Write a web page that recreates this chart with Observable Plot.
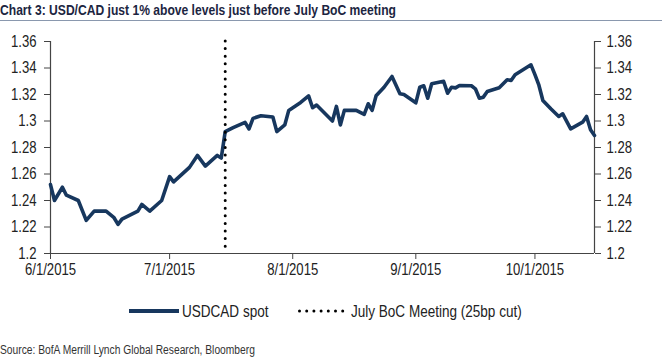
<!DOCTYPE html>
<html>
<head>
<meta charset="utf-8">
<script src="https://cdn.jsdelivr.net/npm/d3@7"></script>
<script src="https://cdn.jsdelivr.net/npm/@observablehq/plot@0.6"></script>
<style>
  body { margin: 0; background: #fff; width: 670px; height: 363px; overflow: hidden; position: relative;
         font-family: "Liberation Sans", Arial, sans-serif; color: #222; }
  #titlebar { position: absolute; left: 0; top: 0; width: 662px; height: 20px; border-bottom: 1px solid #8a98ae; }
  #title { position: absolute; left: 0; top: 0; font-weight: bold; font-size: 15px; line-height: 19px; color: #1c2541;
           white-space: nowrap; transform-origin: 0 50%; }
  #chart { position: absolute; left: 0; top: 22px; }
  .leg { position: absolute; top: 301px; height: 20px; font-size: 16.5px; line-height: 20px; color: #222; white-space: nowrap; }
  .leg svg { position: absolute; top: 0; left: 0; }
  .leg span { position: absolute; left: 53px; top: 0; transform: scaleX(0.82); transform-origin: 0 50%; }
  #source { position: absolute; left: 0; top: 342px; font-size: 12.5px; line-height: 16px; color: #333; white-space: nowrap;
            transform: scaleX(0.82); transform-origin: 0 50%; }
</style>
</head>
<body>
<div id="titlebar"><div id="title">Chart 3: USD/CAD just 1% above levels just before July BoC meeting</div></div>
<div id="chart"></div>
<div class="leg" style="left:129px"><svg width="52" height="20"><line x1="0" x2="50" y1="10" y2="10" stroke="#17375e" stroke-width="4"/></svg><span>USDCAD spot</span></div>
<div class="leg" style="left:298px"><svg width="52" height="20"><line x1="1.5" x2="48" y1="10" y2="10" stroke="#000" stroke-width="3" stroke-dasharray="0 7.2" stroke-linecap="round"/></svg><span>July BoC Meeting (25bp cut)</span></div>
<div id="source">Source: BofA Merrill Lynch Global Research, Bloomberg</div>
<script>
// ---- data ----
const dates = [
  "2015-06-01","2015-06-02","2015-06-04","2015-06-05","2015-06-08","2015-06-10","2015-06-12","2015-06-15",
  "2015-06-17","2015-06-18","2015-06-19","2015-06-23","2015-06-24","2015-06-26","2015-06-29",
  "2015-07-01","2015-07-02","2015-07-06","2015-07-08","2015-07-10","2015-07-13","2015-07-14","2015-07-15",
  "2015-07-17","2015-07-20","2015-07-21","2015-07-22","2015-07-24","2015-07-27","2015-07-28","2015-07-30","2015-07-31",
  "2015-08-03","2015-08-05","2015-08-06","2015-08-07","2015-08-11","2015-08-12","2015-08-13","2015-08-14",
  "2015-08-17","2015-08-19","2015-08-20","2015-08-21","2015-08-22","2015-08-24","2015-08-26","2015-08-28","2015-08-29",
  "2015-09-01","2015-09-02","2015-09-03","2015-09-04","2015-09-05","2015-09-08","2015-09-09","2015-09-10","2015-09-11",
  "2015-09-12","2015-09-15","2015-09-16","2015-09-17","2015-09-18","2015-09-19","2015-09-22","2015-09-24","2015-09-25",
  "2015-09-26","2015-09-30",
  "2015-10-01","2015-10-02","2015-10-03","2015-10-05","2015-10-07","2015-10-08","2015-10-10","2015-10-13","2015-10-14",
  "2015-10-15","2015-10-16"
];
const usdcad = [
  1.252,1.240,1.250,1.244,1.240,1.225,1.232,1.232,
  1.227,1.222,1.226,1.232,1.237,1.232,1.240,
  1.258,1.254,1.265,1.274,1.266,1.274,1.272,1.292,
  1.295,1.299,1.294,1.302,1.304,1.303,1.292,1.297,1.308,
  1.314,1.319,1.310,1.312,1.300,1.311,1.297,1.308,
  1.308,1.305,1.313,1.308,1.319,1.3255,1.3336,1.3205,1.320,
  1.3137,1.3255,1.3266,1.3172,1.3281,1.330,1.321,1.3255,1.325,
  1.3268,1.3266,1.3243,1.3172,1.318,1.3223,1.3251,1.3311,1.3306,
  1.3349,1.3424,
  1.335,1.327,1.3155,1.3092,1.3034,1.3054,1.2941,1.2991,1.3034,
  1.2934,1.2891
];
const bocMeeting = ["2015-07-15"];
const xDomain = ["2015-06-01","2015-10-16"];
const xTickDates = ["2015-06-01","2015-07-01","2015-08-01","2015-09-01","2015-10-01"];
const yTicks = [1.2,1.22,1.24,1.26,1.28,1.3,1.32,1.34,1.36];
const yDomain = [1.2,1.36];

// ---- build ----
const parse = d3.utcParse("%Y-%m-%d");
const series = dates.map((d, i) => ({date: parse(d), value: usdcad[i]}));
const fmtX = d3.utcFormat("%-m/%-d/%Y");
const fmtY = d => String(+d.toFixed(2));
const axisColor = "#444";
const font = '"Liberation Sans", Arial, sans-serif';

const chart = Plot.plot({
  width: 670,
  height: 268,
  marginTop: 19,
  marginBottom: 37,
  marginLeft: 50,
  marginRight: 76,
  style: {fontFamily: font, fontSize: "16px", color: "#222", background: "#fff", overflow: "visible"},
  x: {type: "utc", domain: xDomain.map(parse)},
  y: {domain: yDomain},
  marks: [
    Plot.axisX({ticks: xTickDates.map(parse), tickFormat: fmtX, tickSize: 6, tickPadding: 4, label: null, stroke: axisColor, fontSize: 16}),
    Plot.axisY({anchor: "left", ticks: yTicks, tickFormat: fmtY, tickSize: 6, tickPadding: 8, label: null, stroke: axisColor, fontSize: 16}),
    Plot.axisY({anchor: "right", ticks: yTicks, tickFormat: fmtY, tickSize: 6, tickPadding: 6, label: null, stroke: axisColor, fontSize: 16}),
    Plot.ruleX(xDomain.map(parse), {stroke: axisColor, strokeWidth: 1.2}),
    Plot.ruleY([yDomain[0]], {stroke: axisColor, strokeWidth: 1.2}),
    Plot.line(series, {x: "date", y: "value", stroke: "#17375e", strokeWidth: 3.6, strokeLinejoin: "round", strokeLinecap: "round"}),
    Plot.ruleX(bocMeeting.map(parse), {stroke: "#000", strokeWidth: 3, strokeDasharray: "0 7.6", strokeLinecap: "round"})
  ]
});
// narrow the tick labels (Arial Narrow look = Arial at 82% width)
chart.querySelectorAll("text").forEach(t => {
  const tr = t.getAttribute("transform") || "";
  t.setAttribute("transform", tr + " scale(0.82,1)");
});
document.getElementById("chart").appendChild(chart);

// fit the bold title to the reference width
const title = document.getElementById("title");
const w = title.getBoundingClientRect().width;
title.style.transform = `scaleX(${396 / w})`;
</script>
</body>
</html>
